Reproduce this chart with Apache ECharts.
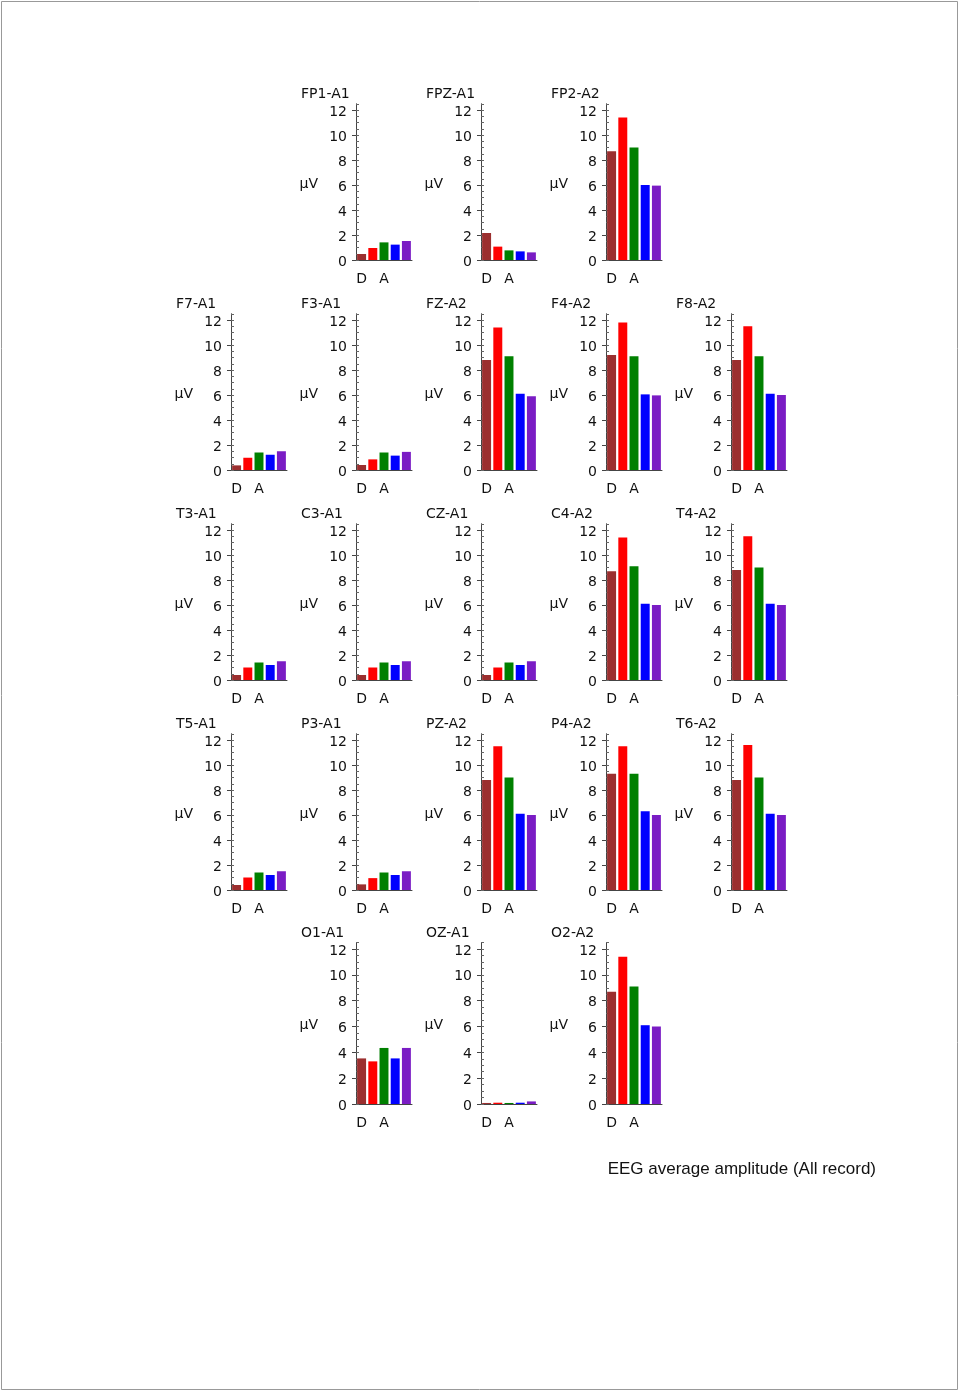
<html>
<head>
<meta charset="UTF-8">
<script src="https://cdn.jsdelivr.net/npm/echarts@6/dist/echarts.min.js"></script>
<style type="text/css">
html,body{margin:0;padding:0;background:#fff;}
#chart{width:960px;height:1393px;}
</style>
</head>
<body>
<div id="chart"></div>
<script type="text/javascript">
// EEG bands (x axis categories), only D and A are labelled
var bands = ['D', 'T', 'A', 'B1', 'B2'];
var channels = ['FP1-A1', 'FPZ-A1', 'FP2-A2',
	'F7-A1', 'F3-A1', 'FZ-A2', 'F4-A2', 'F8-A2',
	'T3-A1', 'C3-A1', 'CZ-A1', 'C4-A2', 'T4-A2',
	'T5-A1', 'P3-A1', 'PZ-A2', 'P4-A2', 'T6-A2',
	'O1-A1', 'OZ-A1', 'O2-A2'];
// amplitude in uV, one value per channel (same order as channels)
var delta = [0.48, 2.16, 8.7, 0.37, 0.4, 8.8, 9.2, 8.8, 0.4, 0.4, 0.4, 8.7, 8.8, 0.4, 0.45, 8.8, 9.3, 8.8, 3.53, 0.08, 8.7];
var theta = [0.96, 1.07, 11.4, 0.98, 0.85, 11.4, 11.8, 11.5, 1.0, 1.0, 1.0, 11.4, 11.5, 1.0, 0.95, 11.5, 11.5, 11.6, 3.3, 0.1, 11.4];
var alpha = [1.41, 0.77, 9.0, 1.4, 1.4, 9.1, 9.1, 9.1, 1.4, 1.4, 1.4, 9.1, 9.0, 1.4, 1.4, 9.0, 9.3, 9.0, 4.34, 0.08, 9.1];
var beta1 = [1.23, 0.69, 6.0, 1.22, 1.15, 6.1, 6.05, 6.1, 1.2, 1.2, 1.2, 6.1, 6.1, 1.2, 1.2, 6.1, 6.3, 6.1, 3.53, 0.1, 6.1];
var beta2 = [1.52, 0.61, 5.95, 1.5, 1.45, 5.9, 5.97, 6.0, 1.5, 1.5, 1.5, 6.0, 6.0, 1.5, 1.5, 6.0, 6.0, 6.0, 4.34, 0.2, 6.0];
var yTicks = [0, 2, 4, 6, 8, 10, 12];

var bandValues = [delta, theta, alpha, beta1, beta2];
var bandColors = ['#9b2f2f', '#ff0000', '#008000', '#0000ff', '#7a1cc4'];
var font = 'DejaVu Sans';
var txt = '#111';
var fs = 14;

// layout: which columns are used in each row, y of "12" and "0" per row
var rowCols = [[1, 2, 3], [0, 1, 2, 3, 4], [0, 1, 2, 3, 4], [0, 1, 2, 3, 4], [1, 2, 3]];
var rowTop = [110, 320, 530, 740, 949];
var rowZero = [260, 470, 680, 890, 1104];

var grids = [], xAxes = [], yAxes = [], series = [], titles = [];
var showDA = function (idx) { return idx == 0 || idx == 2; };
var n = 0;
for (var r = 0; r < rowCols.length; r++) {
	for (var j = 0; j < rowCols[r].length; j++) {
		var c = rowCols[r][j];
		var axisX = 231 + 125 * c;
		var unit = (rowZero[r] - rowTop[r]) / 12;
		var gTop = rowTop[r] - 0.5 * unit;
		grids.push({left: axisX, top: gTop, width: 56, height: rowZero[r] - gTop});
		titles.push({text: channels[n], left: axisX - 55, top: rowTop[r] - 23, padding: 0,
			textStyle: {fontFamily: font, fontSize: fs, fontWeight: 'normal', color: txt}});
		xAxes.push({gridIndex: n, type: 'category', data: bands,
			axisLine: {lineStyle: {color: '#444'}},
			axisTick: {alignWithLabel: true, interval: showDA, length: 4, lineStyle: {color: '#444'}},
			axisLabel: {interval: showDA, margin: 12, fontFamily: font, fontSize: fs, color: txt}
		});
		yAxes.push({gridIndex: n, type: 'value', position: 'left', min: 0, max: 12.5,
			name: '{u|μV}', nameLocation: 'middle', nameGap: 38, nameRotate: 0,
			nameTextStyle: {rich: {u: {fontFamily: font, fontSize: fs, color: txt, padding: [5, 0, 0, 0]}}},
			axisLine: {show: true, lineStyle: {color: '#444'}},
			axisTick: {show: true, length: 4, customValues: yTicks, lineStyle: {color: '#444'}},
			axisLabel: {customValues: yTicks, margin: 9, formatter: '{v|{value}}',
				rich: {v: {fontFamily: font, fontSize: fs, color: txt, padding: [4, 0, 0, 0]}}},
			splitLine: {show: false}
		});
		// minor ticks on the inside
		yAxes.push({gridIndex: n, type: 'value', position: 'left', offset: 0, min: 0, max: 12.5, interval: 0.5,
			axisLine: {show: false},
			axisTick: {show: true, inside: true, length: 3, lineStyle: {color: '#666'}},
			axisLabel: {show: false},
			splitLine: {show: false}
		});
		var data = [];
		for (var k = 0; k < bands.length; k++) {
			data.push({value: bandValues[k][n], itemStyle: {color: bandColors[k]}});
		}
		series.push({type: 'bar', xAxisIndex: n, yAxisIndex: 2 * n, data: data,
			barCategoryGap: '20%', silent: true});
		n++;
	}
}
titles.push({text: 'EEG average amplitude (All record)', right: 84, top: 1161, padding: 0,
	textStyle: {fontFamily: 'Liberation Sans', fontSize: 17, fontWeight: 'normal', color: '#111'}});

var myChart = echarts.init(document.getElementById('chart'));
myChart.setOption({
	animation: false,
	backgroundColor: '#fff',
	title: titles,
	grid: grids,
	xAxis: xAxes,
	yAxis: yAxes,
	series: series,
	graphic: [{type: 'rect', shape: {x: 1.5, y: 1.5, width: 956, height: 1388},
		style: {fill: 'none', stroke: '#999', lineWidth: 1}}]
});
</script>
</body>
</html>
